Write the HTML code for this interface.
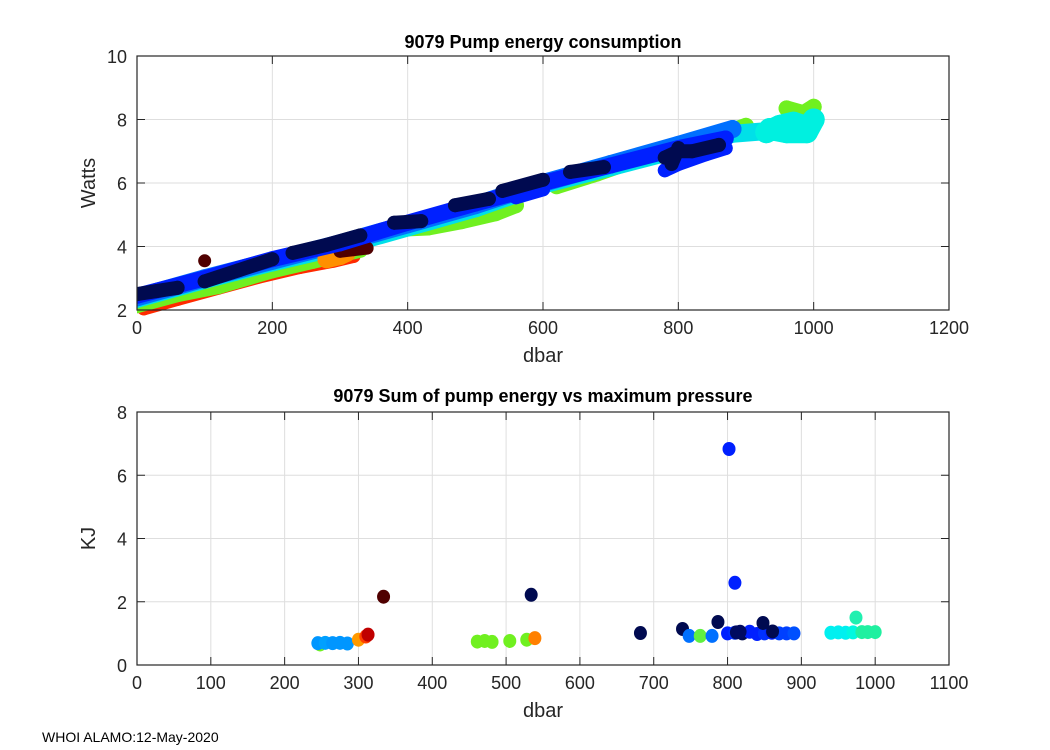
<!DOCTYPE html>
<html><head><meta charset="utf-8"><style>
body{margin:0;background:#fff}
svg{display:block;font-family:"Liberation Sans",Arial,sans-serif}
</style></head><body>
<svg id="s" width="1050" height="750" viewBox="0 0 1050 750">
<rect width="1050" height="750" fill="#fff"/>
<g id="top"></g>
<g id="bot"></g>
<text x="42" y="742" font-size="14" fill="#000">WHOI ALAMO:12-May-2020</text>
</svg>
<script>
// ---- top chart data (pressure dbar, watts), NaN = gap ----
const topRedP=[10,60,120,180,240,290,320];
const topRedW=[2.05,2.35,2.7,3.05,3.35,3.55,3.7];
const topGreenP=[0,60,120,200,260,330,NaN,380,430,480,530,560,NaN,620,680,720,800,860,900,NaN,960,985,1000];
const topGreenW=[2.15,2.5,2.75,3.25,3.55,3.9,NaN,4.55,4.6,4.8,5.05,5.3,NaN,5.9,6.3,6.6,7.05,7.5,7.8,NaN,8.35,8.2,8.4];
const topCyanP=[0,100,200,300,400,500,600,700,800,880,940,960,980,1000];
const topCyanW=[2.35,2.95,3.5,4.0,4.6,5.2,5.95,6.5,7.05,7.55,7.65,7.7,7.8,7.9];
const topCyanBlobP=[930,950,970,990,1000,990,960,935];
const topCyanBlobW=[7.6,7.8,7.9,7.75,8.0,7.6,7.6,7.7];
const topLBlueP=[0,100,200,300,400,500,600,700,800,880];
const topLBlueW=[2.4,3.0,3.55,4.1,4.7,5.3,6.0,6.6,7.2,7.7];
const topBlueP=[0,100,200,300,400,500,560,600,700,800,870];
const topBlueW=[2.45,3.0,3.6,4.1,4.75,5.35,5.7,6.0,6.55,7.1,7.4];
const topBlue2P=[560,600,NaN,780,800,840,870];
const topBlue2W=[5.55,5.8,NaN,6.4,6.6,6.9,7.1];
const topOrangeP=[280,300,310];
const topOrangeW=[3.6,3.7,3.8];
const topDarkRedP=[300,320,340,NaN,100];
const topDarkRedW=[3.85,3.9,3.95,NaN,3.55];
const topNavyP=[0,30,60,NaN,100,150,200,NaN,230,280,330,NaN,380,420,NaN,470,520,NaN,540,600,NaN,640,690,NaN,780,800,820,860,NaN,790,800];
const topNavyW=[2.5,2.6,2.7,NaN,2.9,3.25,3.6,NaN,3.8,4.05,4.35,NaN,4.75,4.8,NaN,5.3,5.5,NaN,5.75,6.1,NaN,6.35,6.5,NaN,6.8,7.0,7.0,7.2,NaN,6.6,7.1];
// ---- bottom chart data (max pressure, KJ) ----
const botP=[248,245,255,265,275,285,300,310,313,334,461,471,481,505,528,539,534,682,739,748,763,779,787,802,810,800,810,820,830,840,850,860,870,880,890,812,817,848,861,940,950,960,970,974,982,990,1000];
const botK=[0.65,0.69,0.7,0.69,0.7,0.68,0.8,0.9,0.96,2.16,0.74,0.76,0.73,0.76,0.8,0.85,2.22,1.01,1.14,0.92,0.92,0.92,1.36,6.83,2.6,1.0,1.02,1.0,1.05,0.98,1.0,1.02,1.0,1.0,1.0,1.03,1.05,1.33,1.06,1.02,1.03,1.02,1.03,1.5,1.04,1.04,1.04];
const botC=["#70f020","#0096ff","#00a0ff","#0096ff","#0096ff","#0096ff","#ff9a00","#ff4000","#c00000","#500000","#70f020","#70f020","#70f020","#70f020","#70f020","#ff8000","#000a50","#000a50","#000a50","#0070ff","#60f040","#0070ff","#000a50","#0020ff","#0020ff","#0020ff","#0030ff","#000a50","#0020ff","#0020ff","#0030ff","#0020ff","#0040ff","#0040ff","#0050ff","#000a60","#000a60","#000a50","#000a50","#00f0f0","#00f0f0","#00f0f0","#00f8e0","#20f0b0","#20f0a0","#20f0a0","#20f0a0"];
const topXTicks=[0,200,400,600,800,1000,1200];
const topYTicks=[2,4,6,8,10];
const botXTicks=[0,100,200,300,400,500,600,700,800,900,1000,1100];
const botYTicks=[0,2,4,6,8];

const NS="http://www.w3.org/2000/svg";
function mk(parent,tag,attrs){const e=document.createElementNS(NS,tag);for(const k in attrs)e.setAttribute(k,attrs[k]);parent.appendChild(e);return e;}
const L=137,R=949;
function axes(g,x,y,x0,x1,y0,y1,xt,yt){
  const yT=y(y1),yB=y(y0);
  xt.forEach(v=>{const l=mk(g,'line',{x1:x(v),x2:x(v),y1:yT,y2:yB,stroke:'#dedede','stroke-width':1});
    
    });
  yt.forEach(v=>{const l=mk(g,'line',{x1:L,x2:R,y1:y(v),y2:y(v),stroke:'#dedede','stroke-width':1});
    
    });
}
function frame(g,x,y,x0,x1,y0,y1,xt,yt,title,ylab,titleY,xlabY){
  const yT=y(y1),yB=y(y0);
  const b=mk(g,'rect',{x:L,y:yT,width:R-L,height:yB-yT,fill:'none',stroke:'#262626','stroke-width':1.2});
  
  
  xt.forEach(v=>{
    mk(g,'line',{x1:x(v),x2:x(v),y1:yB,y2:yB-8,stroke:'#262626'});
    mk(g,'line',{x1:x(v),x2:x(v),y1:yT,y2:yT+8,stroke:'#262626'});
    const t=mk(g,'text',{x:x(v),y:yB+24,'text-anchor':'middle','font-size':18,fill:'#262626'});t.textContent=v;
    
    
  });
  yt.forEach(v=>{
    mk(g,'line',{x1:L,x2:L+8,y1:y(v),y2:y(v),stroke:'#262626'});
    mk(g,'line',{x1:R,x2:R-8,y1:y(v),y2:y(v),stroke:'#262626'});
    const t=mk(g,'text',{x:L-10,y:y(v)+7,'text-anchor':'end','font-size':18,fill:'#262626'});t.textContent=v;
    
    
  });
  const tt=mk(g,'text',{x:543,y:titleY,'text-anchor':'middle','font-size':18,'font-weight':'bold',fill:'#000'});tt.textContent=title;
  
  
  const xl=mk(g,'text',{x:543,y:xlabY,'text-anchor':'middle','font-size':20,fill:'#262626'});xl.textContent='dbar';
  
  
  const cy=(yT+yB)/2;
  const yl=mk(g,'text',{x:0,y:0,'text-anchor':'middle','font-size':20,fill:'#262626',transform:`translate(95,${cy}) rotate(-90)`});yl.textContent=ylab;
  
  
}
// top
const gT=document.getElementById('top');
const xT=p=>L+(p-0)*(R-L)/1200, yTf=w=>310-(w-2)*254/8;
axes(gT,xT,yTf,0,1200,2,10,topXTicks,topYTicks);
const clipT=mk(gT,'clipPath',{id:'ct'});mk(clipT,'rect',{x:L,y:56,width:R-L,height:254+8});
const marks=mk(gT,'g',{'clip-path':'url(#ct)'});


function series(P,W,col,sw,name){
  let d='',pen=false;
  for(let i=0;i<P.length;i++){
    if(isNaN(P[i])){pen=false;continue;}
    d+=(pen?'L':'M')+xT(P[i]).toFixed(1)+' '+yTf(W[i]).toFixed(1)+' ';pen=true;
    const c=mk(marks,'circle',{cx:xT(P[i]),cy:yTf(W[i]),r:sw/2,fill:col});
    
    
  }
  const p=mk(marks,'path',{d:d,fill:'none',stroke:col,'stroke-width':sw,'stroke-linecap':'round','stroke-linejoin':'round'});
  
  
}
series(topRedP,topRedW,'#ff2a00',14,'red-series');
series(topGreenP,topGreenW,'#70f020',16,'green-series');
series(topCyanP,topCyanW,'#00e0e8',18,'cyan-series');
series(topCyanBlobP,topCyanBlobW,'#00f0e0',22,'cyan-cluster');
series(topLBlueP,topLBlueW,'#0070ff',18,'lightblue-series');
series(topOrangeP,topOrangeW,'#ff9000',18,'orange-series');
series(topDarkRedP,topDarkRedW,'#500000',13,'darkred-series');
series(topBlueP,topBlueW,'#0020ff',16,'blue-series');
series(topBlue2P,topBlue2W,'#0020ff',14,'blue-lower-series');
series(topNavyP,topNavyW,'#000a50',14,'navy-series');
frame(gT,xT,yTf,0,1200,2,10,topXTicks,topYTicks,'9079 Pump energy consumption','Watts',48,362);
// bottom
const gB=document.getElementById('bot');
const xB=p=>L+p*(R-L)/1100, yB=k=>665-k*(665-412)/8;
axes(gB,xB,yB,0,1100,0,8,botXTicks,botYTicks);
for(let i=0;i<botP.length;i++){
  const c=mk(gB,'ellipse',{cx:xB(botP[i]),cy:yB(botK[i]),rx:6.5,ry:7,fill:botC[i]});
  
  
}
frame(gB,xB,yB,0,1100,0,8,botXTicks,botYTicks,'9079 Sum of pump energy vs maximum pressure','KJ',402,717);
</script>
</body></html>
